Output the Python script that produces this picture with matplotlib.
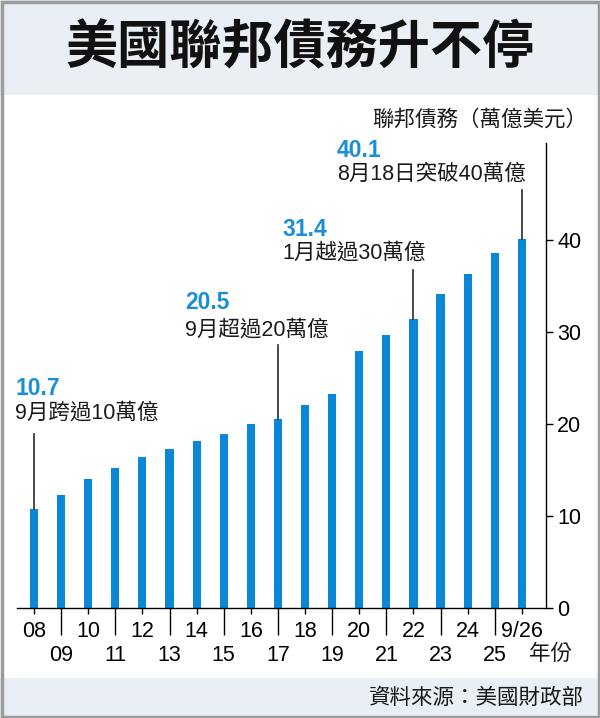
import matplotlib
matplotlib.use("Agg")
import matplotlib.pyplot as plt
from matplotlib.patches import Rectangle

plt.rcParams['font.family'] = ['Liberation Sans', 'Noto Sans CJK TC', 'DejaVu Sans']

# ---- data ----
years = ["08", "09", "10", "11", "12", "13", "14", "15", "16", "17",
         "18", "19", "20", "21", "22", "23", "24", "25", "9/26"]
debt = [10.7, 12.3, 14.0, 15.2, 16.4, 17.25, 18.1, 18.9, 20.0, 20.5,
        22.1, 23.2, 27.9, 29.7, 31.4, 34.1, 36.3, 38.6, 40.1]
yticks = [0, 10, 20, 30, 40]
ann_index = [0, 9, 14, 18]
ann_values = ["10.7", "20.5", "31.4", "40.1"]
ann_notes = ["9月跨過10萬億", "9月超過20萬億", "1月越過30萬億", "8月18日突破40萬億"]

title = "美國聯邦債務升不停"
unit_label = "聯邦債務（萬億美元）"
x_unit = "年份"
source = "資料來源：美國財政部"

BAR = "#0a87d7"
BLUE_TXT = "#1b8fd6"
BAND = "#e9eff5"
BORDER = "#9c9c9c"

W, H = 600, 718
fig = plt.figure(figsize=(W / 100, H / 100), dpi=100)
fig.patch.set_facecolor("white")

def fx(px):
    return px / W

def fy(py):
    return 1 - py / H

# bands and frame
fig.patches.append(Rectangle((fx(0), fy(95)), 1, 95 / H, transform=fig.transFigure,
                             facecolor=BAND, edgecolor="none", zorder=0))
fig.patches.append(Rectangle((fx(0), fy(718)), 1, 40 / H, transform=fig.transFigure,
                             facecolor=BAND, edgecolor="none", zorder=0))
fig.patches.append(Rectangle((fx(1.5), fy(716.5)), (W - 3) / W, (H - 3) / H,
                             transform=fig.transFigure, facecolor="none",
                             edgecolor=BORDER, linewidth=2.5, zorder=5))

fig.text(0.5, fy(48), title, ha="center", va="center", fontsize=37.5,
         fontweight="heavy", family=["Noto Sans CJK TC"], color="#111111")

ax = fig.add_axes([fx(17), fy(608), (546 - 17) / W, (608 - 143) / H])
ax.set_facecolor("none")
x = list(range(len(years)))
ax.bar(x, debt, width=0.3, color=BAR, zorder=2)
ax.set_xlim(-0.627, 18.89)
ax.set_ylim(0, 50.5)

for s in ["left", "top"]:
    ax.spines[s].set_visible(False)
ax.spines["right"].set_linewidth(1.0)
ax.spines["bottom"].set_linewidth(1.0)

ax.yaxis.tick_right()
ax.set_yticks(yticks)
ax.set_yticklabels([str(v) for v in yticks])
ax.tick_params(axis="y", length=5, width=1, pad=3, labelsize=15.5)

even = [i for i in x if i % 2 == 0]
odd = [i for i in x if i % 2 == 1]
ax.set_xticks(even)
ax.set_xticklabels([years[i] for i in even])
ax.set_xticks(odd, minor=True)
ax.set_xticklabels([years[i] for i in odd], minor=True)
ax.tick_params(axis="x", which="major", length=4.5, width=1, pad=5, labelsize=15.5)
ax.tick_params(axis="x", which="minor", length=19.5, width=1, pad=7, labelsize=15.5)

# annotations
ann_pos = [(-0.70, 23.8, 21.2, 18.9), (5.57, 33.15, 30.2, 28.6),
           (9.18, 41.1, 38.6, 36.7), (11.18, 49.7, 47.1, 45.4)]
for idx, val, note, (tx, ny, sy, ly) in zip(ann_index, ann_values, ann_notes, ann_pos):
    ax.text(tx, ny, val, color=BLUE_TXT, fontsize=16.5, fontweight="bold",
            ha="left", va="center", clip_on=False)
    ax.text(tx, sy, note, color="#1a1a1a", fontsize=15.5, ha="left",
            va="center", clip_on=False)
    ax.plot([idx, idx], [ly, debt[idx]], color="#2a2a2a", linewidth=1.2, zorder=3)

fig.text(fx(587), fy(120), unit_label, ha="right", va="center", fontsize=15.5,
         color="#1a1a1a")
fig.text(fx(529), fy(654), x_unit, ha="left", va="center", fontsize=15.5,
         color="#1a1a1a")
fig.text(fx(584), fy(698), source, ha="right", va="center", fontsize=15.5,
         color="#1a1a1a")

fig.savefig("out.png", dpi=100)
